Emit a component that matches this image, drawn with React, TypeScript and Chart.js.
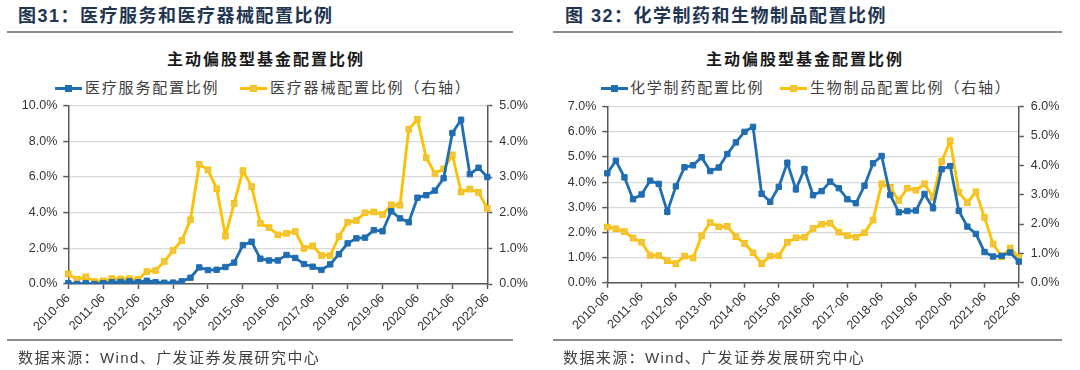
import React, { useEffect, useRef } from 'react';
import { Chart, registerables } from 'chart.js';

Chart.register(...registerables);

// ---------- DATA ----------
const quarterLabels: string[] = [
  '2010-06', '2010-09', '2010-12', '2011-03',
  '2011-06', '2011-09', '2011-12', '2012-03',
  '2012-06', '2012-09', '2012-12', '2013-03',
  '2013-06', '2013-09', '2013-12', '2014-03',
  '2014-06', '2014-09', '2014-12', '2015-03',
  '2015-06', '2015-09', '2015-12', '2016-03',
  '2016-06', '2016-09', '2016-12', '2017-03',
  '2017-06', '2017-09', '2017-12', '2018-03',
  '2018-06', '2018-09', '2018-12', '2019-03',
  '2019-06', '2019-09', '2019-12', '2020-03',
  '2020-06', '2020-09', '2020-12', '2021-03',
  '2021-06', '2021-09', '2021-12', '2022-03',
  '2022-06',
];

// 图31 医疗服务配置比例 (left axis, %)
const medicalServices: number[] = [
  0.05, 0.0, 0.05, 0.0, 0.05, 0.1, 0.12, 0.15, 0.1, 0.18,
  0.1, 0.07, 0.08, 0.15, 0.35, 0.93, 0.78, 0.8, 0.95, 1.2,
  2.18, 2.37, 1.42, 1.32, 1.32, 1.63, 1.46, 1.12, 0.97, 0.79,
  1.1, 1.67, 2.28, 2.56, 2.6, 3.02, 2.96, 4.08, 3.68, 3.46,
  4.84, 4.98, 5.24, 5.93, 8.47, 9.21, 6.16, 6.52, 6.0,
];

// 图31 医疗器械配置比例 (right axis, %)
const medicalDevices: number[] = [
  0.28, 0.13, 0.2, 0.07, 0.09, 0.15, 0.14, 0.15, 0.13, 0.35,
  0.38, 0.63, 0.94, 1.22, 1.8, 3.36, 3.2, 2.67, 1.35, 2.26,
  3.18, 2.73, 1.7, 1.58, 1.38, 1.42, 1.47, 1.0, 1.07, 0.8,
  0.8, 1.33, 1.73, 1.78, 2.0, 2.02, 1.95, 2.22, 2.21, 4.34,
  4.62, 3.54, 3.1, 3.23, 3.62, 2.58, 2.66, 2.57, 2.12,
];

// 图32 化学制药配置比例 (left axis, %)
const chemicalPharma: number[] = [
  4.35, 4.85, 4.19, 3.32, 3.51, 4.06, 3.93, 2.82, 3.83, 4.59,
  4.67, 4.99, 4.44, 4.58, 5.12, 5.58, 6.0, 6.2, 3.54, 3.22,
  3.81, 4.77, 3.71, 4.52, 3.48, 3.64, 4.02, 3.76, 3.32, 3.16,
  3.86, 4.75, 5.04, 3.49, 2.8, 2.85, 2.87, 3.53, 2.96, 4.51,
  4.64, 2.86, 2.23, 1.94, 1.22, 1.04, 1.07, 1.2, 0.84,
];

// 图32 生物制品配置比例 (right axis, %)
const biologics: number[] = [
  1.9, 1.84, 1.74, 1.52, 1.38, 0.93, 0.93, 0.75, 0.65, 0.91,
  0.84, 1.6, 2.05, 1.91, 1.92, 1.57, 1.34, 1.02, 0.65, 0.91,
  0.92, 1.38, 1.53, 1.55, 1.85, 1.99, 2.03, 1.72, 1.6, 1.55,
  1.7, 2.14, 3.37, 3.25, 2.8, 3.22, 3.15, 3.37, 2.91, 4.13,
  4.84, 3.08, 2.73, 3.1, 2.22, 1.32, 0.89, 1.18, 0.86,
];

// ---------- STYLE ----------
const BLUE = '#1f6db3';
const YELLOW = '#ffc000';
const YELLOW_FILL = '#e8c656';
const AXIS = '#595959';
const GRID = '#d9d9d9';
const TEXT = '#333333';
const LATIN = '"Liberation Sans", Arial, "Noto Sans CJK SC", sans-serif';
const CJK = '"Liberation Sans", "Noto Sans CJK SC", sans-serif';

type ChartProps = {
  seriesA: number[];
  seriesB: number[];
  nameA: string;
  nameB: string;
  leftMax: number;
  leftStep: number;
  rightMax: number;
  rightStep: number;
  yLeftWidth: number;
  yRightWidth: number;
  padTop: number;
  xHeight: number;
};

function DualLineChart(p: ChartProps) {
  const ref = useRef<HTMLCanvasElement>(null);
  useEffect(() => {
    const tickFont = { family: LATIN, size: 12.5 };
    const chart = new Chart(ref.current as HTMLCanvasElement, {
      type: 'line',
      data: {
        labels: quarterLabels,
        datasets: [
          {
            label: p.nameA,
            data: p.seriesA,
            yAxisID: 'yL',
            borderColor: BLUE,
            backgroundColor: BLUE,
            pointBackgroundColor: BLUE,
            pointBorderColor: BLUE,
            pointBorderWidth: 1,
            borderWidth: 2.8,
            pointStyle: 'rect',
            pointRadius: 3.8,
            tension: 0,
          },
          {
            label: p.nameB,
            data: p.seriesB,
            yAxisID: 'yR',
            borderColor: YELLOW,
            backgroundColor: YELLOW,
            pointBackgroundColor: YELLOW_FILL,
            pointBorderColor: YELLOW,
            pointBorderWidth: 1.2,
            borderWidth: 2.8,
            pointStyle: 'rect',
            pointRadius: 3.8,
            tension: 0,
          },
        ],
      },
      options: {
        responsive: false,
        animation: false,
        layout: { padding: { top: p.padTop, left: 0, right: 0, bottom: 0 } },
        plugins: {
          legend: { display: false },
          tooltip: { enabled: false },
          title: { display: false },
        },
        scales: {
          x: {
            type: 'category',
            offset: false,
            grid: {
              drawOnChartArea: false,
              drawTicks: true,
              tickLength: 5,
              tickWidth: 1.5,
              tickColor: (c: any) => (c.index % 4 === 0 ? AXIS : 'rgba(0,0,0,0)'),
            },
            border: { display: true, color: AXIS, width: 1.5 },
            ticks: {
              autoSkip: false,
              maxRotation: 45,
              minRotation: 45,
              padding: 2,
              color: TEXT,
              font: tickFont,
              callback: (_v: any, i: number) => (i % 4 === 0 ? quarterLabels[i] : ''),
            },
            afterFit: (s: any) => {
              s.height = p.xHeight;
            },
          },
          yL: {
            type: 'linear',
            position: 'left',
            min: 0,
            max: p.leftMax,
            grid: {
              color: GRID,
              lineWidth: 1.2,
              tickColor: AXIS,
              tickLength: 5,
              tickWidth: 1.5,
            },
            border: { display: true, color: AXIS, width: 1.5 },
            ticks: {
              stepSize: p.leftStep,
              padding: 6,
              color: TEXT,
              font: tickFont,
              callback: (v: any) => Number(v).toFixed(1) + '%',
            },
            afterFit: (s: any) => {
              s.width = p.yLeftWidth;
            },
          },
          yR: {
            type: 'linear',
            position: 'right',
            min: 0,
            max: p.rightMax,
            grid: {
              drawOnChartArea: false,
              tickColor: AXIS,
              tickLength: 5,
              tickWidth: 1.5,
            },
            border: { display: true, color: AXIS, width: 1.5 },
            ticks: {
              stepSize: p.rightStep,
              padding: 7,
              color: TEXT,
              font: tickFont,
              callback: (v: any) => Number(v).toFixed(1) + '%',
            },
            afterFit: (s: any) => {
              s.width = p.yRightWidth;
            },
          },
        },
      } as any,
    });
    return () => chart.destroy();
  }, []);
  return <canvas ref={ref} width={540} height={250} style={{ display: 'block' }} />;
}

function LegendMark({ color, fill, left }: { color: string; fill: string; left: number }) {
  return (
    <div style={{ position: 'absolute', left, top: 86.5, width: 27, height: 3, background: color }}>
      <div
        style={{
          position: 'absolute',
          left: 10.5,
          top: -1.5,
          width: 5,
          height: 5,
          background: fill,
          border: `1px solid ${color}`,
          boxSizing: 'content-box',
          marginLeft: -0.5,
          marginTop: -0.5,
        }}
      />
    </div>
  );
}

type PanelProps = {
  x: number;
  title: string;
  titleLeft: number;
  ruleLeft: number;
  ruleRight: number;
  sourceLeft: number;
  chartTitleCenter: number;
  legendA: string;
  legendB: string;
  legendPos: [number, number, number, number];
  chart: ChartProps;
};

function Panel(p: PanelProps) {
  const text: React.CSSProperties = { position: 'absolute', whiteSpace: 'nowrap', fontFamily: CJK };
  return (
    <>
      <div
        style={{
          ...text,
          left: p.titleLeft,
          top: 5,
          fontSize: 18,
          lineHeight: '22px',
          fontWeight: 'bold',
          letterSpacing: 1.5,
          color: '#1f3552',
        }}
      >
        {p.title}
      </div>
      <div style={{ position: 'absolute', left: p.ruleLeft, top: 31, width: p.ruleRight - p.ruleLeft, height: 2, background: '#8c8c8c' }} />
      <div
        style={{
          ...text,
          left: p.chartTitleCenter - 150,
          width: 300,
          textAlign: 'center',
          top: 49,
          fontSize: 16,
          lineHeight: '22px',
          fontWeight: 'bold',
          letterSpacing: 2,
          color: '#1a1a1a',
        }}
      >
        主动偏股型基金配置比例
      </div>
      <LegendMark color={BLUE} fill={BLUE} left={p.legendPos[0]} />
      <div style={{ ...text, left: p.legendPos[1], top: 77, fontSize: 15, lineHeight: '22px', letterSpacing: 1.8, color: '#404040' }}>
        {p.legendA}
      </div>
      <LegendMark color={YELLOW} fill={YELLOW_FILL} left={p.legendPos[2]} />
      <div style={{ ...text, left: p.legendPos[3], top: 77, fontSize: 15, lineHeight: '22px', letterSpacing: 1.8, color: '#404040' }}>
        {p.legendB}
      </div>
      <div style={{ position: 'absolute', left: p.x, top: 90, width: 540, height: 250 }}>
        <DualLineChart {...p.chart} />
      </div>
      <div style={{ position: 'absolute', left: p.ruleLeft, top: 339, width: p.ruleRight - p.ruleLeft, height: 2, background: '#8c8c8c' }} />
      <div style={{ ...text, left: p.sourceLeft, top: 347, fontSize: 15, lineHeight: '22px', letterSpacing: 1.4, color: '#404040' }}>
        数据来源：Wind、广发证券发展研究中心
      </div>
    </>
  );
}

export default function App() {
  return (
    <div style={{ position: 'absolute', left: 0, top: 0, width: 1080, height: 370, background: '#ffffff', overflow: 'hidden' }}>
      <Panel
        x={0}
        title="图31：医疗服务和医疗器械配置比例"
        titleLeft={18}
        ruleLeft={7}
        ruleRight={513}
        sourceLeft={18}
        chartTitleCenter={266}
        legendA="医疗服务配置比例"
        legendB="医疗器械配置比例（右轴）"
        legendPos={[55, 85, 240, 270]}
        chart={{
          seriesA: medicalServices,
          seriesB: medicalDevices,
          nameA: '医疗服务配置比例',
          nameB: '医疗器械配置比例（右轴）',
          leftMax: 10,
          leftStep: 2,
          rightMax: 5,
          rightStep: 0.5,
          yLeftWidth: 68.3,
          yRightWidth: 52.7,
          padTop: 15.7,
          xHeight: 56,
        }}
      />
      <Panel
        x={540}
        title="图 32：化学制药和生物制品配置比例"
        titleLeft={565}
        ruleLeft={553}
        ruleRight={1062}
        sourceLeft={563}
        chartTitleCenter={805}
        legendA="化学制药配置比例"
        legendB="生物制品配置比例（右轴）"
        legendPos={[601, 630, 780, 810]}
        chart={{
          seriesA: chemicalPharma,
          seriesB: biologics,
          nameA: '化学制药配置比例',
          nameB: '生物制品配置比例（右轴）',
          leftMax: 7,
          leftStep: 1,
          rightMax: 6,
          rightStep: 1,
          yLeftWidth: 67.3,
          yRightWidth: 61.2,
          padTop: 16.7,
          xHeight: 57.3,
        }}
      />
    </div>
  );
}
